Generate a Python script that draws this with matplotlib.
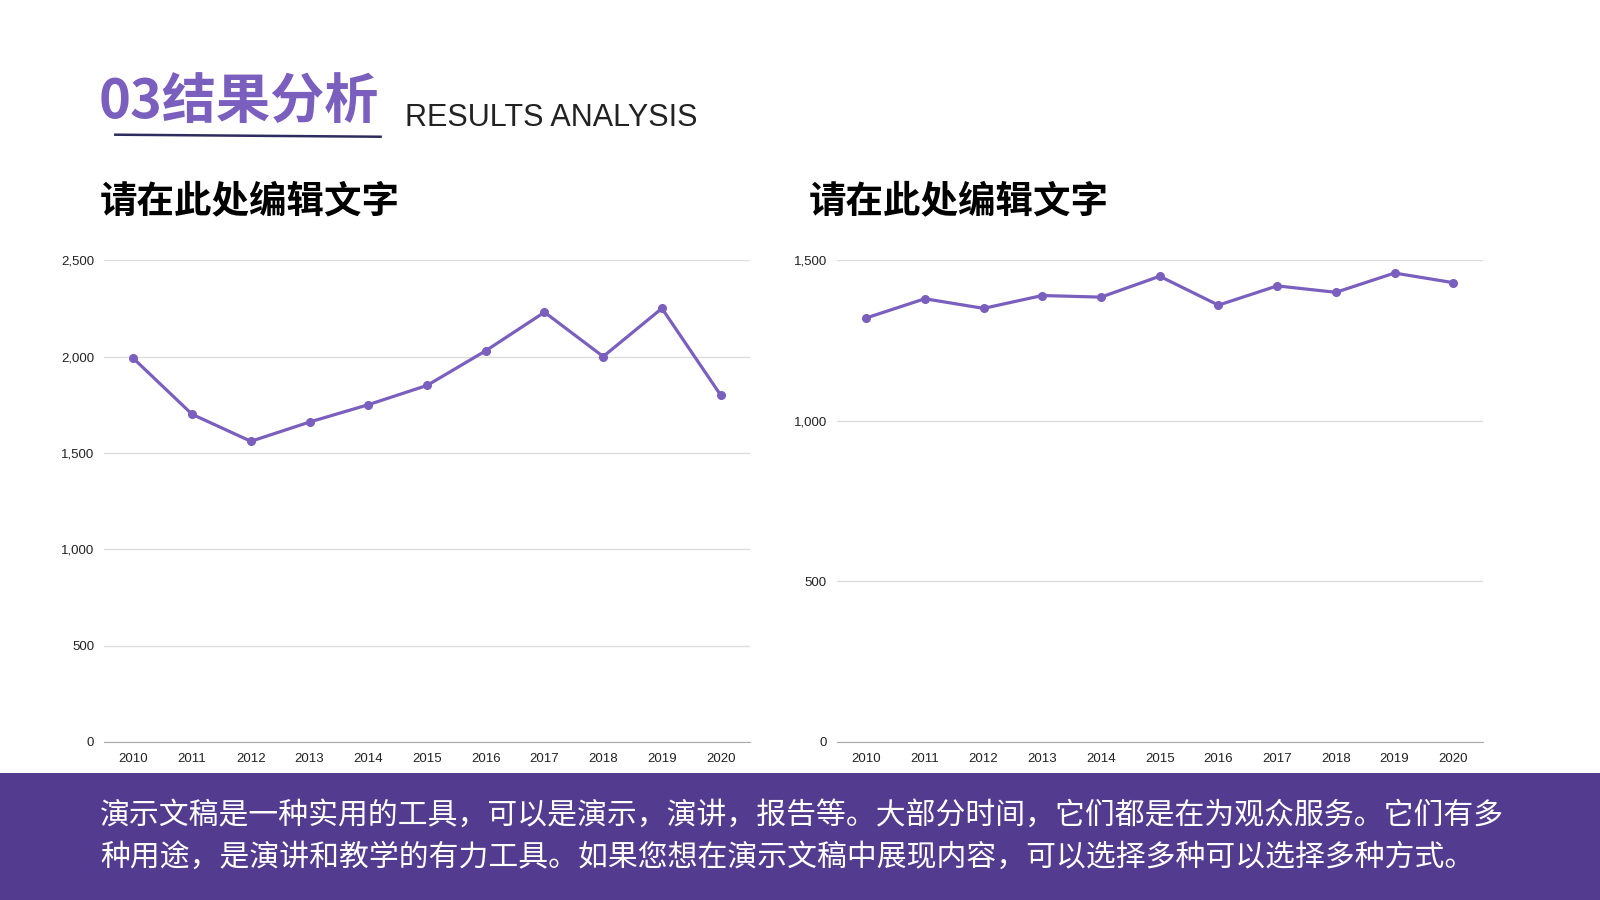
import matplotlib
matplotlib.use('Agg')
import matplotlib.pyplot as plt
from matplotlib.patches import Rectangle
from matplotlib.lines import Line2D
from matplotlib.ticker import StrMethodFormatter

plt.rcParams['font.family'] = ['Noto Sans CJK SC', 'DejaVu Sans']

# dữ liệu
years = ['2010', '2011', '2012', '2013', '2014', '2015', '2016', '2017', '2018', '2019', '2020']
left_values = [1990, 1700, 1560, 1660, 1750, 1850, 2030, 2230, 2000, 2250, 1800]
right_values = [1320, 1380, 1350, 1390, 1385, 1450, 1360, 1420, 1400, 1460, 1430]
left_ticks = [0, 500, 1000, 1500, 2000, 2500]
right_ticks = [0, 500, 1000, 1500]

title_cn = '03结果分析'
title_en = 'RESULTS ANALYSIS'
sub_title = '请在此处编辑文字'
body_lines = [
    '演示文稿是一种实用的工具，可以是演示，演讲，报告等。大部分时间，它们都是在为观众服务。它们有多',
    '种用途，是演讲和教学的有力工具。如果您想在演示文稿中展现内容，可以选择多种可以选择多种方式。',
]

PURPLE = '#7B5FBE'
BAND = '#533C8F'
TICK_FONT = ['Liberation Sans Narrow', 'Liberation Sans', 'DejaVu Sans']

fig = plt.figure(figsize=(16, 9), dpi=100)
W, H = 1568, 882  # toạ độ tham chiếu


def fx(px):
    return px / W


def fy(py):
    return 1 - py / H


def ve_line(ax, values, ticks):
    ax.plot(range(len(years)), values, color=PURPLE, lw=2.3, marker='o', ms=5.5,
            solid_joinstyle='round', zorder=3)
    ax.set_xlim(-0.5, len(years) - 0.5)
    ax.set_ylim(ticks[0], ticks[-1])
    ax.set_yticks(ticks)
    ax.yaxis.set_major_formatter(StrMethodFormatter('{x:,.0f}'))
    ax.set_xticks(range(len(years)))
    ax.set_xticklabels(years)
    ax.grid(axis='y', color='#DDDDDD', lw=1)
    ax.set_axisbelow(True)
    for s in ['left', 'right', 'top']:
        ax.spines[s].set_visible(False)
    ax.spines['bottom'].set_color('#AAAAAA')
    ax.tick_params(length=0, labelsize=9.5, colors='#222222')
    ax.tick_params(axis='y', pad=7)
    ax.tick_params(axis='x', pad=8)
    for lab in ax.get_xticklabels() + ax.get_yticklabels():
        lab.set_family(TICK_FONT)


ax1 = fig.add_axes([fx(102), fy(727), fx(735) - fx(102), fy(255) - fy(727)])
ve_line(ax1, left_values, left_ticks)
ax2 = fig.add_axes([fx(820), fy(727), fx(1453) - fx(820), fy(255) - fy(727)])
ve_line(ax2, right_values, right_ticks)

# tiêu đề
fig.text(fx(97), fy(100), title_cn, fontsize=39, fontweight='heavy', color=PURPLE,
         va='center', ha='left')
fig.text(fx(397), fy(116), title_en, fontsize=22, color='#222222', va='center',
         ha='left', family=['Liberation Sans', 'DejaVu Sans'])
fig.add_artist(Line2D([fx(113), fx(373)], [fy(132), fy(134)], color='#2E2B5F', lw=1.8))

fig.text(fx(98), fy(197), sub_title, fontsize=27, fontweight='black', color='black',
         va='center', ha='left')
fig.text(fx(793), fy(197), sub_title, fontsize=27, fontweight='black', color='black',
         va='center', ha='left')

# dải màu dưới cùng
fig.add_artist(Rectangle((0, 0), 1, fy(758), transform=fig.transFigure,
                         facecolor=BAND, edgecolor='none', zorder=0))
fig.text(fx(98), fy(799), body_lines[0], fontsize=21.5, color='white', va='center', ha='left')
fig.text(fx(98), fy(840), body_lines[1], fontsize=21.5, color='white', va='center', ha='left')

fig.savefig('out.png', dpi=100, facecolor='white')
